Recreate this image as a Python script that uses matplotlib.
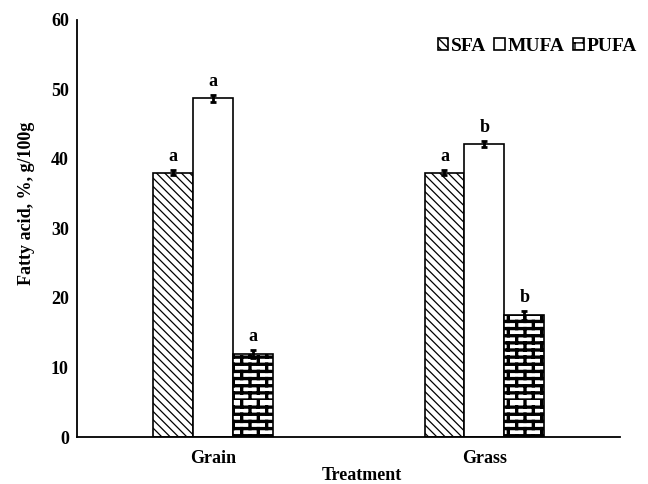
import numpy as np
import matplotlib
matplotlib.use("Agg")
import matplotlib.pyplot as plt
import matplotlib.hatch as mhatch
from matplotlib.path import Path

# ---- data ----
treatments = ["Grain", "Grass"]
series = ["SFA", "MUFA", "PUFA"]
sfa = [38.0, 38.0]
mufa = [48.7, 42.1]
pufa = [11.9, 17.5]
sfa_err = [0.35, 0.35]
mufa_err = [0.45, 0.45]
pufa_err = [0.55, 0.6]
sfa_lbl = ["a", "a"]
mufa_lbl = ["a", "b"]
pufa_lbl = ["a", "b"]

# ---- custom brick hatch (mortar lines) ----
_orig_get_path = mhatch.get_path
BRICK = "++++"


def _brick_path(rows=14, bricks=6):
    verts, codes = [], []
    for k in range(rows):
        y0 = k / rows
        y1 = (k + 1) / rows
        verts += [(0.0, y0), (1.0, y0)]
        codes += [Path.MOVETO, Path.LINETO]
        off = (k % 2) * (0.5 / bricks)
        for j in range(bricks):
            xx = j / bricks + off
            verts += [(xx, y0), (xx, y1)]
            codes += [Path.MOVETO, Path.LINETO]
    return Path(np.array(verts), np.array(codes, dtype=Path.code_type))


def _get_path(hatchpattern, density=6):
    if hatchpattern == BRICK:
        return _brick_path()
    return _orig_get_path(hatchpattern, density)


mhatch.get_path = _get_path

plt.rcParams["font.family"] = ["Liberation Serif", "DejaVu Serif"]
plt.rcParams["font.weight"] = "bold"
plt.rcParams["hatch.color"] = "black"

FS = 13

fig = plt.figure(figsize=(6.48, 4.84), dpi=100)
ax = fig.add_axes([0.119, 0.097, 0.838, 0.862])

x = np.arange(len(treatments))
w = 0.147

with plt.rc_context({"hatch.linewidth": 0.9}):
    b1 = ax.bar(x - w, sfa, w, color="white", edgecolor="black", linewidth=1.2,
                hatch="\\\\\\\\", label="SFA")
b2 = ax.bar(x, mufa, w, color="white", edgecolor="black", linewidth=1.2, label="MUFA")
with plt.rc_context({"hatch.linewidth": 2.4}):
    b3 = ax.bar(x + w, pufa, w, color="white", edgecolor="black", linewidth=1.2,
                hatch=BRICK, label="PUFA")

for off, vals, errs, lbls in [(-w, sfa, sfa_err, sfa_lbl), (0, mufa, mufa_err, mufa_lbl),
                              (w, pufa, pufa_err, pufa_lbl)]:
    ax.errorbar(x + off, vals, yerr=errs, fmt="none", ecolor="black", elinewidth=2,
                capsize=2.5, capthick=2)
    for xi, v, e, l in zip(x + off, vals, errs, lbls):
        ax.annotate(l, (xi, v + e), xytext=(0, 4), textcoords="offset points",
                    ha="center", va="bottom", fontsize=FS, fontweight="bold")

ax.set_xlim(-0.5, 1.5)
ax.set_ylim(0, 60)
ax.set_yticks(range(0, 61, 10))
ax.set_xticks(x)
ax.set_xticklabels(treatments)
ax.tick_params(axis="y", length=0, labelsize=FS, pad=6)
ax.tick_params(axis="x", length=0, labelsize=FS, pad=9)
for lab in ax.get_xticklabels() + ax.get_yticklabels():
    lab.set_fontweight("bold")
ax.set_ylabel("Fatty acid, %, g/100g", fontsize=FS, fontweight="bold")
ax.set_xlabel("Treatment", fontsize=FS, fontweight="bold")
ax.yaxis.set_label_coords(-0.078, 0.56)
ax.xaxis.set_label_coords(0.525, -0.072)
for s in ["top", "right"]:
    ax.spines[s].set_visible(False)
for s in ["left", "bottom"]:
    ax.spines[s].set_linewidth(1.3)

leg = ax.legend(loc="upper right", bbox_to_anchor=(1.045, 0.975), ncol=3, frameon=False,
                handlelength=0.55, handleheight=0.55, handletextpad=0.15,
                columnspacing=0.4, borderaxespad=0, prop={"size": 14, "weight": "bold"})

fig.savefig("out.png", dpi=100)
